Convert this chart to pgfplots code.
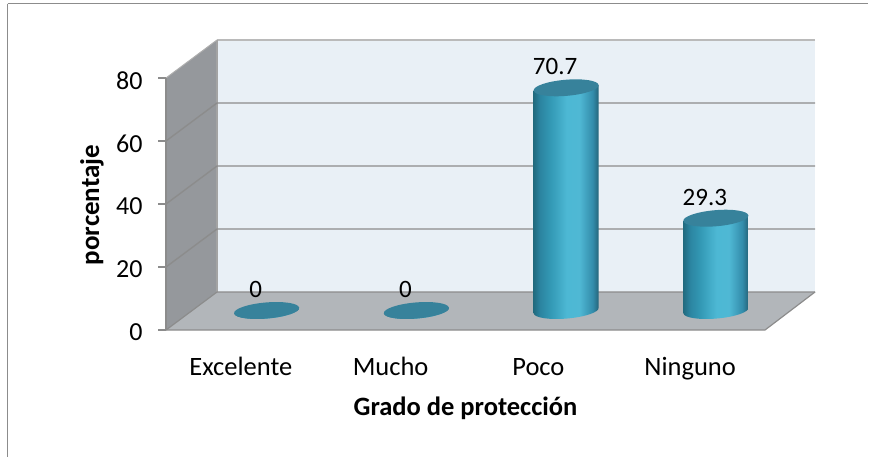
\documentclass[border=0pt]{standalone}
\usepackage{pgfplots}
\pgfplotsset{compat=1.18}
\usepackage{fontspec}
\setmainfont{Carlito}
\definecolor{wallback}{HTML}{E9F0F6}
\definecolor{wallleft}{HTML}{95989C}
\definecolor{floorc}{HTML}{B2B6BA}
\definecolor{gridc}{HTML}{8C8C8C}
\definecolor{cyltop}{HTML}{37829B}
\pgfdeclarehorizontalshading{cylshade}{100bp}{
 rgb(0bp)=(0.13,0.42,0.50);
 rgb(25bp)=(0.13,0.42,0.50);
 rgb(30bp)=(0.17,0.52,0.63);
 rgb(38bp)=(0.20,0.60,0.71);
 rgb(50bp)=(0.30,0.72,0.83);
 rgb(60bp)=(0.31,0.72,0.83);
 rgb(70bp)=(0.20,0.55,0.67);
 rgb(75bp)=(0.14,0.38,0.46);
 rgb(100bp)=(0.14,0.38,0.46)}
\pgfdeclareplotmark{cyl}{%
 \pgftransformshift{\pgfpoint{25.75pt}{19.5pt}}%
 \pgfpathmoveto{\pgfpoint{-32.5pt}{-2.8pt}}%
 \pgfpathlineto{\pgfpoint{-32.5pt}{-2.8pt-\h pt}}%
 \pgftransformshift{\pgfpoint{0pt}{-\h pt}}%
 \pgfpatharcaxes{180}{360}{\pgfpoint{32.5pt}{2.8pt}}{\pgfpoint{-1pt}{8pt}}%
 \pgftransformshift{\pgfpoint{0pt}{\h pt}}%
 \pgfpathlineto{\pgfpoint{32.5pt}{2.8pt}}%
 \pgfpathclose
 \pgfshadepath{cylshade}{0}%
 \pgfusepath{discard}%
 \pgfsetfillcolor{cyltop}%
 \pgfpathellipse{\pgfpoint{0pt}{0pt}}{\pgfpoint{32.5pt}{2.8pt}}{\pgfpoint{-1pt}{8pt}}%
 \pgfusepath{fill}%
}
\pgfplotstableread{
idx val
0 0
1 0
2 70.7
3 29.3
}\datatable
\begin{document}
\begin{tikzpicture}[x=1pt,y=1pt]
\path (0,0) rectangle (869,-457);
\draw[color=gridc,line width=1.6pt] (7.5,-3.5) -- (868,-3.5);
\draw[color=gridc,line width=1.6pt] (7.5,-3.5) -- (7.5,-457);
\begin{axis}[
 at={(166pt,-330pt)},anchor=south west,
 scale only axis,width=599pt,height=252pt,
 xmin=-0.5,xmax=3.5,ymin=0,ymax=80,
 clip=false,
 axis x line=none,
 axis y line*=left,
 axis line style={gridc,line width=1.2pt,-},
 ytick={0,20,40,60,80},
 tick style={gridc,line width=1.2pt},
 tick align=outside,
 major tick length=8pt,
 y tick label style={font=\fontsize{26}{26}\selectfont,xshift=-12pt,yshift=-2.5pt},
 /pgf/number format/assume math mode=true,
 set layers=standard,
]
\begin{pgfonlayer}{axis background}
\fill[floorc] (axis cs:-0.5,0) -- (axis cs:3.5,0) -- ++(50pt,38pt) -- ([xshift=51pt,yshift=38pt]axis cs:-0.5,0) -- cycle;
\fill[wallleft] (axis cs:-0.5,0) -- (axis cs:-0.5,80) -- ++(51pt,38pt) -- ([xshift=51pt,yshift=38pt]axis cs:-0.5,0) -- cycle;
\fill[wallback] ([xshift=51pt,yshift=38pt]axis cs:-0.5,0) rectangle ([xshift=50pt,yshift=38pt]axis cs:3.5,80);
\draw[gridc!60,line width=1.2pt] ([xshift=51pt,yshift=38pt]axis cs:-0.5,80) -- ([xshift=50pt,yshift=38pt]axis cs:3.5,80);
\draw[gridc!80,line width=1.2pt] ([xshift=51pt,yshift=38pt]axis cs:-0.5,0) -- ([xshift=51pt,yshift=38pt]axis cs:-0.5,80);
\draw[gridc!70,line width=1pt] (axis cs:-0.5,80) -- ++(51pt,38pt);
\foreach \v in {20,40,60}{
 \edef\temp{\noexpand\draw[gridc,line width=1.4pt] (axis cs:-0.5,\v) -- ++(51pt,38pt) -- ([xshift=50pt,yshift=38pt]axis cs:3.5,\v);}
 \temp
}
\draw[gridc,line width=1.2pt] (axis cs:-0.5,0) -- ([xshift=51pt,yshift=38pt]axis cs:-0.5,0) -- ([xshift=50pt,yshift=38pt]axis cs:3.5,0);
\draw[gridc,line width=1.2pt] (axis cs:-0.5,0) -- (axis cs:3.5,0) -- ++(50pt,38pt);
\end{pgfonlayer}
\addplot[
 scatter,only marks,mark=cyl,
 point meta=y,
 visualization depends on={rawy*3.15 \as \h},
 nodes near coords,
 every node near coord/.style={anchor=center,xshift=-11pt,yshift=21pt,font=\fontsize{25}{25}\selectfont,text=black},
] table[x=idx,y=val] {\datatable};
\node[font=\fontsize{26.5}{26.5}\selectfont,anchor=base] at ([yshift=-45pt]axis cs:0,0) {Excelente};
\node[font=\fontsize{26.5}{26.5}\selectfont,anchor=base] at ([yshift=-45pt]axis cs:1,0) {Mucho};
\node[font=\fontsize{26.5}{26.5}\selectfont,anchor=base,xshift=-2pt] at ([yshift=-45pt]axis cs:2,0) {Poco};
\node[font=\fontsize{26.5}{26.5}\selectfont,anchor=base] at ([yshift=-45pt]axis cs:3,0) {Ninguno};
\node[font=\fontsize{26.5}{26.5}\selectfont\bfseries,anchor=base] at ([yshift=-85pt]axis cs:1.5,0) {Grado de protección};
\node[font=\fontsize{27}{27}\selectfont\bfseries,anchor=center,rotate=90] at ([xshift=-74pt,yshift=-1pt]axis cs:-0.5,40) {porcentaje};
\end{axis}
\end{tikzpicture}
\end{document}
